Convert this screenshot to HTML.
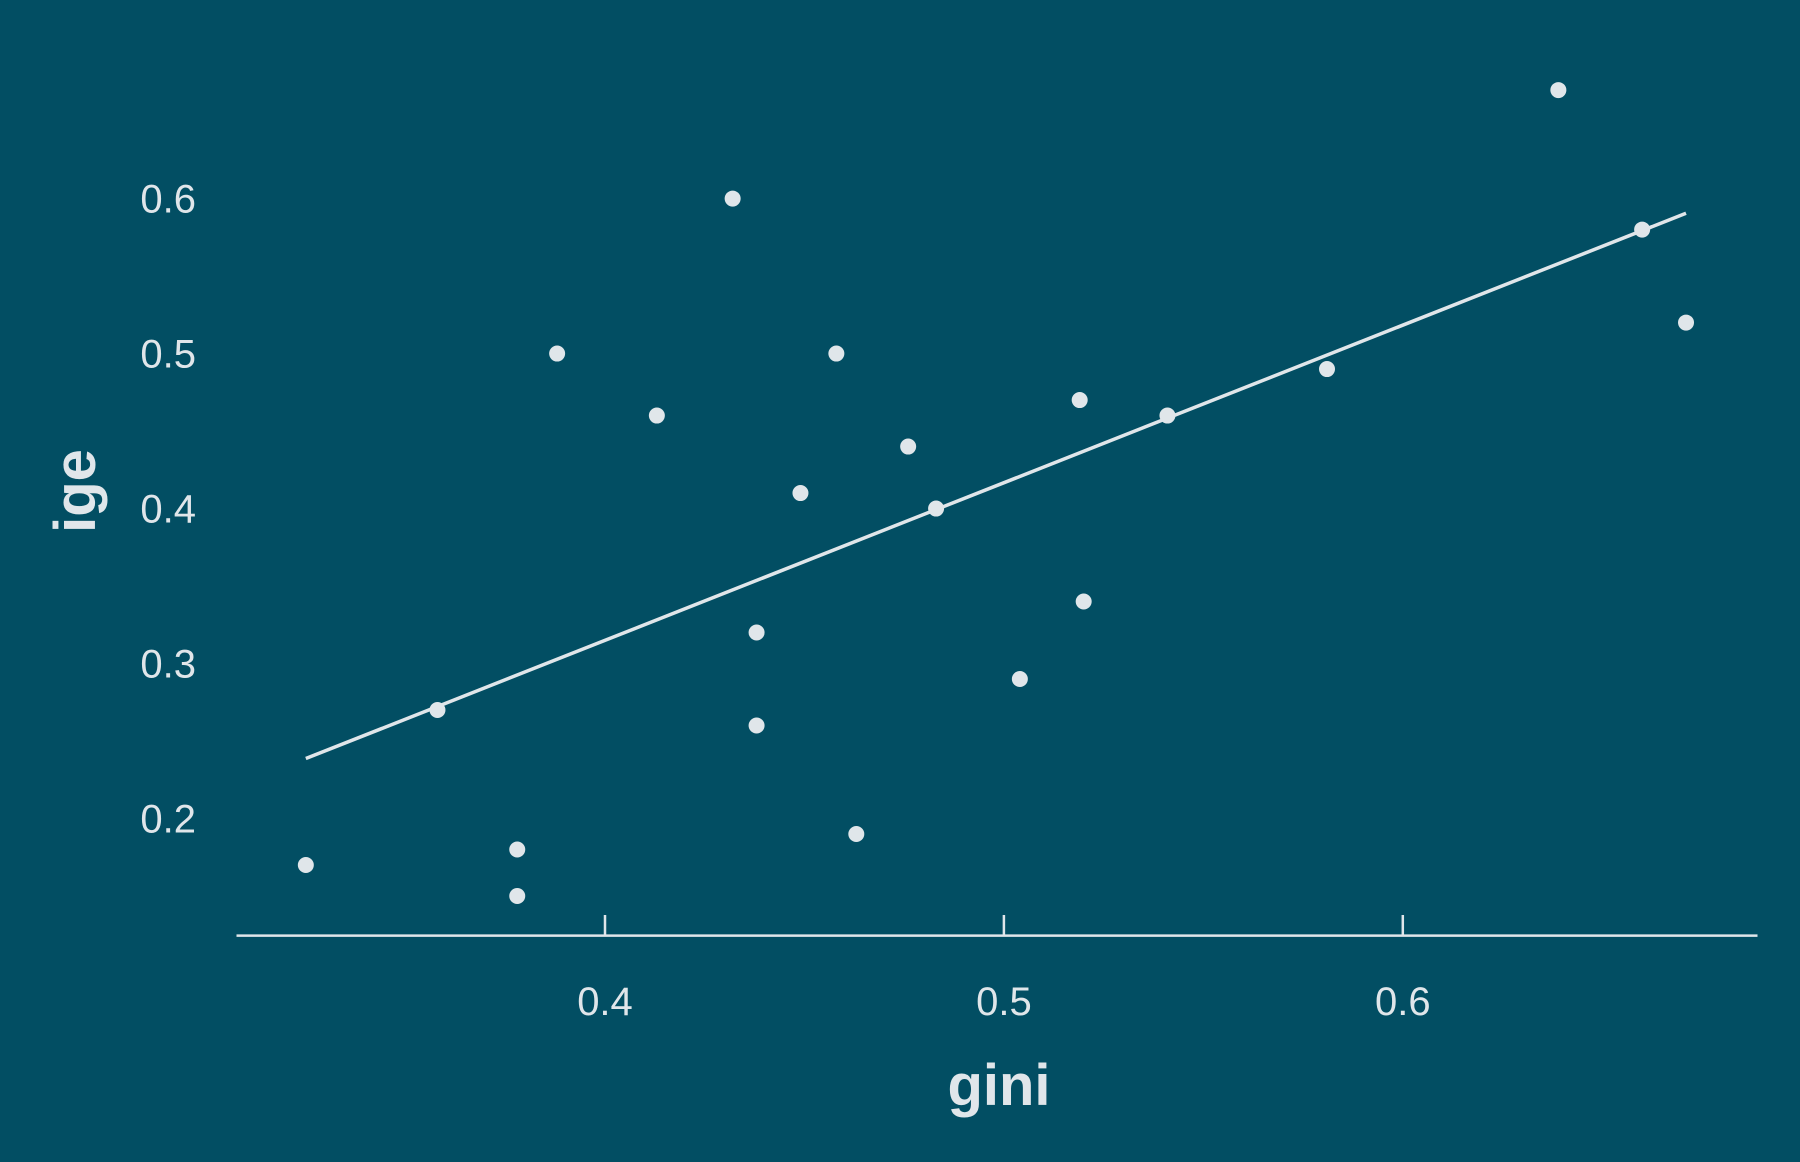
<!DOCTYPE html>
<html><head><meta charset="utf-8"><style>
html,body{margin:0;padding:0;background:#024e63;}
svg{display:block;font-family:"Liberation Sans",sans-serif;}
</style></head><body>
<svg id="chart" width="1800" height="1162" viewBox="0 0 1800 1162">
<rect x="0" y="0" width="1800" height="1162" fill="#024e63"/>
<line x1="236.5" y1="935.6" x2="1757.5" y2="935.6" stroke="#e0e6ea" stroke-width="2.5"/>
<g id="xticks"></g>
<g id="yticks"></g>
<g id="fit"></g>
<g id="pts"></g>
<text x="999" y="1105" text-anchor="middle" font-size="58" font-weight="bold" fill="#e0e6ea">gini</text>
<text transform="translate(95,491) rotate(-90)" text-anchor="middle" font-size="58" font-weight="bold" fill="#e0e6ea">ige</text>
</svg>
<script>
const gini = [0.325,0.358,0.378,0.378,0.388,0.413,0.432,0.438,0.438,0.449,0.458,0.463,0.476,0.483,0.504,0.519,0.520,0.541,0.581,0.639,0.660,0.671];
const ige  = [0.17,0.27,0.18,0.15,0.50,0.46,0.60,0.32,0.26,0.41,0.50,0.19,0.44,0.40,0.29,0.47,0.34,0.46,0.49,0.67,0.58,0.52];
const xTickVals = [0.4,0.5,0.6];
const xTickLabels = ["0.4","0.5","0.6"];
const yTickVals = [0.2,0.3,0.4,0.5,0.6];
const yTickLabels = ["0.2","0.3","0.4","0.5","0.6"];

const NS="http://www.w3.org/2000/svg";
function xs(v){return 605 + (v-0.4)*3989;}
function ys(v){return 818.5 - (v-0.2)*1549.8;}
function mk(tag,attrs,parent){const e=document.createElementNS(NS,tag);for(const k in attrs)e.setAttribute(k,attrs[k]);parent.appendChild(e);return e;}

const xg=document.getElementById('xticks');
xTickVals.forEach((v,i)=>{
  const l=mk('line',{x1:xs(v),x2:xs(v),y1:915,y2:935,stroke:'#e0e6ea','stroke-width':2.5},xg);
  
  
  const t=mk('text',{x:xs(v),y:1015,'text-anchor':'middle','font-size':40,fill:'#e0e6ea'},xg);
  
  
  t.textContent=xTickLabels[i];
});
const yg=document.getElementById('yticks');
yTickVals.forEach((v,i)=>{
  const t=mk('text',{x:196,y:ys(v)+14,'text-anchor':'end','font-size':40,fill:'#e0e6ea'},yg);
  
  
  t.textContent=yTickLabels[i];
});

const n=gini.length;
let mx=0,my=0;for(let i=0;i<n;i++){mx+=gini[i];my+=ige[i];}mx/=n;my/=n;
let sxy=0,sxx=0;for(let i=0;i<n;i++){sxy+=(gini[i]-mx)*(ige[i]-my);sxx+=(gini[i]-mx)**2;}
const b=sxy/sxx,a=my-b*mx;
const x0=Math.min(...gini),x1=Math.max(...gini);
const fl=mk('line',{x1:xs(x0),y1:ys(a+b*x0),x2:xs(x1),y2:ys(a+b*x1),stroke:'#e0e6ea','stroke-width':3.5},document.getElementById('fit'));



const pg=document.getElementById('pts');
for(let i=0;i<n;i++){
  const c=mk('circle',{cx:xs(gini[i]),cy:ys(ige[i]),r:8,fill:'#e0e6ea'},pg);
  
  
}
</script>
</body></html>
